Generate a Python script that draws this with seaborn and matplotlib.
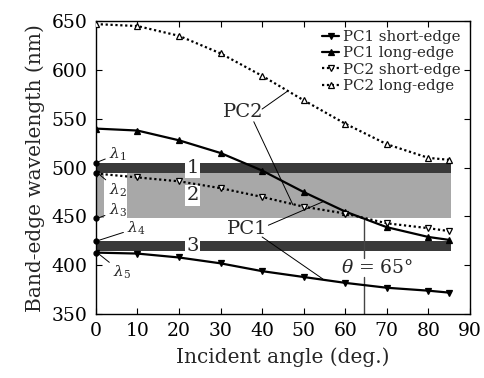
import matplotlib
matplotlib.use("Agg")
import matplotlib.pyplot as plt
import seaborn as sns
import pandas as pd

angles = [0, 10, 20, 30, 40, 50, 60, 70, 80, 85]
pc1_short = [413, 412, 408, 402, 394, 388, 382, 377, 374, 372]
pc1_long = [540, 538, 528, 515, 497, 475, 455, 439, 429, 426]
pc2_short = [494, 490, 486, 479, 470, 460, 453, 443, 438, 435]
pc2_long = [647, 645, 635, 617, 594, 569, 545, 524, 510, 508]

series_names = ["PC1 short-edge", "PC1 long-edge", "PC2 short-edge", "PC2 long-edge"]
bands = [(495, 505, "#3a3a3a", "1"), (448, 495, "#a8a8a8", "2"), (415, 425, "#3a3a3a", "3")]
lambdas = [505, 495, 448, 425, 413]

sns.set_theme(style="ticks")
plt.rcParams["font.family"] = ["DejaVu Serif"]
plt.rcParams["mathtext.fontset"] = "dejavuserif"

fig = plt.figure(figsize=(4.84, 3.78), dpi=100)
ax = fig.add_axes([0.198, 0.169, 0.773, 0.775])

# bands
for lo, hi, col, lab in bands:
    if lab == "2":
        ax.fill_between([0, 2], lo, hi, color=col, lw=0, zorder=1)
        ax.fill_between([7.5, 85.4], lo, hi, color=col, lw=0, zorder=1)
    else:
        ax.fill_between([0, 85.4], lo, hi, color=col, lw=0, zorder=1)
    ax.text(23.3, (lo + hi) / 2, lab, ha="center", va="center", fontsize=14,
            bbox=dict(boxstyle="square,pad=0.06", fc="white", ec="none"), zorder=3)

df = pd.DataFrame({"angle": angles * 4,
                   "wl": pc1_short + pc1_long + pc2_short + pc2_long,
                   "series": sum([[n] * len(angles) for n in series_names], [])})

styles = {
    "PC1 short-edge": dict(marker="v", ls="-", mfc="black"),
    "PC1 long-edge": dict(marker="^", ls="-", mfc="black"),
    "PC2 short-edge": dict(marker="v", ls=(0, (1, 1.2)), mfc="white"),
    "PC2 long-edge": dict(marker="^", ls=(0, (1, 1.2)), mfc="white"),
}
for name in series_names:
    st = styles[name]
    sub = df[df.series == name]
    sns.lineplot(data=sub, x="angle", y="wl", ax=ax, color="black", marker=st["marker"],
                 linestyle=st["ls"], lw=1.6, markersize=4.8, markerfacecolor=st["mfc"],
                 markeredgecolor="black", markeredgewidth=0.9, label=name, zorder=4)

# lambda markers
ax.plot([0] * len(lambdas), lambdas, "o", color="black", ms=3.5, clip_on=False, zorder=6)
lam_text = [(5.3, 514, 0, 505), (5.3, 477, 0.3, 495), (5.3, 456, 0.3, 448), (9.8, 438, 0.3, 425), (6.2, 393, 0.3, 413)]
for i, (tx, ty, px, py) in enumerate(lam_text):
    ax.annotate(r"$\lambda_%d$" % (i + 1), xy=(px, py), xytext=(tx, ty), fontsize=11,
                ha="center", va="center",
                bbox=dict(boxstyle="square,pad=0.0", fc="white", ec="none"),
                arrowprops=dict(arrowstyle="-", color="black", lw=0.7, shrinkA=3, shrinkB=0), zorder=5)

# PC labels
ax.text(35.5, 557, "PC2", fontsize=14, ha="center", va="center", zorder=5,
        bbox=dict(boxstyle="square,pad=0.05", fc="white", ec="none"))
ax.plot([40, 46], [560, 578], color="black", lw=0.7, zorder=5)
ax.plot([38, 47.4], [547, 462], color="black", lw=0.7, zorder=5)
ax.text(36.5, 437, "PC1", fontsize=14, ha="center", va="center", zorder=5,
        bbox=dict(boxstyle="square,pad=0.05", fc="white", ec="none"))
ax.plot([41.5, 54.6], [441, 465], color="black", lw=0.7, zorder=5)
ax.plot([40, 54.6], [429, 386], color="black", lw=0.7, zorder=5)

# theta line
ax.plot([64.5, 64.5], [446, 407], color="#444444", lw=1.0, zorder=2)
ax.plot([64.5, 64.5], [388, 350], color="#444444", lw=1.0, zorder=2)
ax.text(67.6, 397, r"$\theta$ = 65°", fontsize=13.5, ha="center", va="center", zorder=5)

ax.set_xlim(0, 90)
ax.set_ylim(350, 650)
ax.set_xticks(range(0, 91, 10))
ax.set_yticks(range(350, 651, 50))
ax.tick_params(direction="in", top=True, right=True, labelsize=13.5, length=4, width=0.8,
               colors="black", pad=6)
for s in ax.spines.values():
    s.set_linewidth(1.0)
    s.set_color("black")
ax.set_xlabel("Incident angle (deg.)", fontsize=14.5, labelpad=5)
ax.set_ylabel("Band-edge wavelength (nm)", fontsize=14.5, labelpad=5)

leg = ax.legend(loc="upper right", frameon=False, fontsize=10.8, handlelength=1.1,
                handletextpad=0.3, labelspacing=0.15, borderaxespad=0.5, borderpad=0.1)

fig.savefig("out.png", dpi=100)
